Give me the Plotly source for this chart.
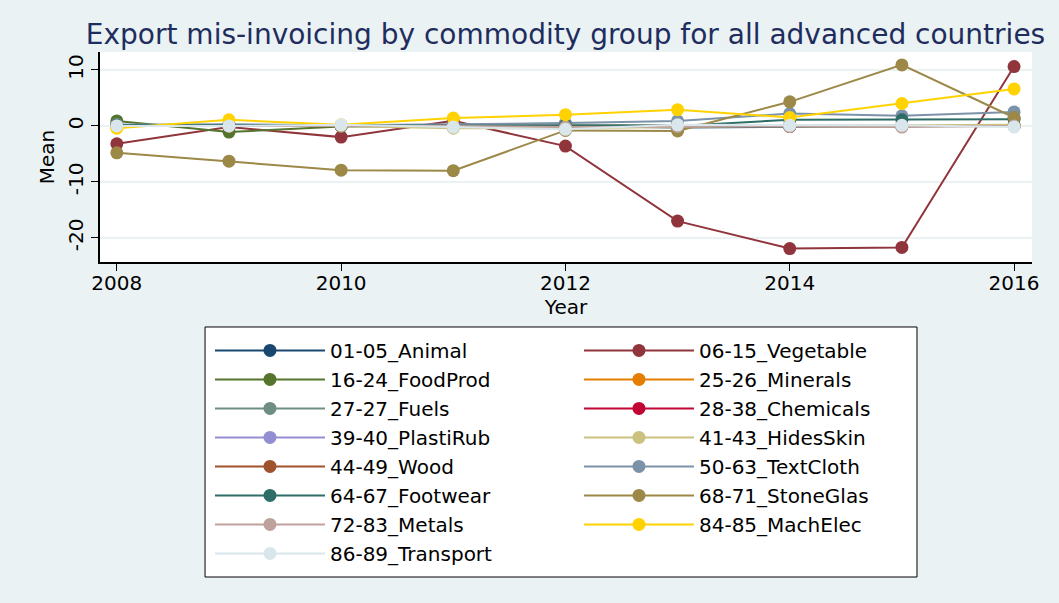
import plotly.graph_objects as go

years = [2008, 2009, 2010, 2011, 2012, 2013, 2014, 2015, 2016]

groups = [
    "01-05_Animal", "06-15_Vegetable", "16-24_FoodProd", "25-26_Minerals",
    "27-27_Fuels", "28-38_Chemicals", "39-40_PlastiRub", "41-43_HidesSkin",
    "44-49_Wood", "50-63_TextCloth", "64-67_Footwear", "68-71_StoneGlas",
    "72-83_Metals", "84-85_MachElec", "86-89_Transport",
]

animal = [0.1, 0.0, 0.0, 0.1, 0.0, -0.3, -0.1, 0.0, 0.0]
vegetable = [-3.2, -0.2, -2.0, 0.9, -3.6, -17.0, -21.9, -21.7, 10.6]
foodprod = [0.9, -1.1, -0.1, 0.0, 0.0, 0.0, -0.1, -0.1, 0.1]
minerals = [0.0, 0.0, 0.0, 0.0, 0.0, 0.0, 0.0, 0.0, 0.0]
fuels = [0.2, 0.1, 0.0, 0.1, 0.2, 0.1, 0.1, 0.1, 0.0]
chemicals = [0.0, 0.0, 0.0, 0.0, 0.0, 0.0, 0.0, 0.0, 0.0]
plastirub = [0.0, 0.1, 0.0, 0.0, 0.0, 0.0, 0.0, 0.0, 0.0]
hidesskin = [0.0, 0.0, 0.0, -0.4, -0.4, -0.2, 0.1, 0.1, 0.2]
wood = [0.0, 0.0, 0.0, 0.0, 0.0, -0.1, -0.1, -0.1, 0.0]
textcloth = [0.2, 0.3, 0.1, 0.3, 0.5, 0.9, 2.2, 1.8, 2.5]
footwear = [0.1, 0.1, 0.0, 0.1, 0.1, 0.0, 1.1, 1.1, 1.2]
stoneglas = [-4.8, -6.3, -7.9, -8.0, -0.8, -0.9, 4.3, 10.9, 1.5]
metals = [0.0, 0.0, 0.0, 0.0, -0.2, -0.1, -0.1, -0.2, 0.0]
machelec = [-0.4, 1.1, 0.2, 1.4, 2.0, 2.9, 1.5, 4.0, 6.6]
transport = [0.0, 0.0, 0.2, -0.2, -0.6, 0.2, 0.1, 0.1, -0.2]

values = [animal, vegetable, foodprod, minerals, fuels, chemicals, plastirub,
          hidesskin, wood, textcloth, footwear, stoneglas, metals, machelec, transport]

x_ticks = [2008, 2010, 2012, 2014, 2016]
y_ticks = [-20, -10, 0, 10]
y_tick_labels = ["-20", "-10", "0", "10"]

# Stata s2color palette
colors = [
    "rgb(26,71,111)", "rgb(144,53,59)", "rgb(85,117,47)", "rgb(227,126,0)",
    "rgb(110,142,132)", "rgb(193,5,52)", "rgb(147,141,210)", "rgb(202,194,126)",
    "rgb(160,82,45)", "rgb(123,146,168)", "rgb(45,109,102)", "rgb(156,136,71)",
    "rgb(191,161,156)", "rgb(255,210,0)", "rgb(217,230,235)",
]

FONT = "DejaVu Sans, Liberation Sans, sans-serif"
BG = "#EAF2F3"

fig = go.Figure()
for name, ys, col in zip(groups, values, colors):
    fig.add_trace(
        go.Scatter(
            x=years,
            y=ys,
            mode="lines+markers",
            name=name,
            line=dict(color=col, width=2),
            marker=dict(color=col, size=13),
        )
    )

# white framed box behind the two-column legend
fig.add_shape(
    type="rect",
    xref="paper", yref="paper",
    x0=0.1127, x1=0.8766, y0=-1.5, y1=-0.3095,
    line=dict(color="black", width=1),
    fillcolor="white",
    layer="below",
)

fig.update_layout(
    width=1059,
    height=603,
    paper_bgcolor=BG,
    plot_bgcolor="white",
    margin=dict(l=100, r=27, t=52, b=341, autoexpand=False),
    font=dict(family=FONT, size=20, color="black"),
    title=dict(
        text="Export mis-invoicing by commodity group for all advanced countries",
        x=0.534,
        xanchor="center",
        y=0.944,
        yanchor="middle",
        font=dict(family=FONT, size=28, color="#1E2D5E"),
    ),
    legend=dict(
        orientation="h",
        x=0.118,
        xanchor="left",
        y=-0.328,
        yanchor="top",
        bgcolor="rgba(0,0,0,0)",
        borderwidth=0,
        font=dict(family=FONT, size=20, color="black"),
        itemwidth=110,
        itemsizing="trace",
        entrywidth=244,
        entrywidthmode="pixels",
        traceorder="normal",
    ),
    showlegend=True,
)

fig.update_xaxes(
    range=[2007.85, 2016.16],
    tickvals=x_ticks,
    showgrid=False,
    zeroline=False,
    showline=True,
    linecolor="black",
    linewidth=1.5,
    ticks="outside",
    ticklen=7,
    tickcolor="black",
    ticklabelstandoff=-5,
    title=dict(text="Year", standoff=2, font=dict(size=20)),
    tickfont=dict(size=20),
)

fig.update_yaxes(
    range=[-24.3, 13.2],
    tickvals=y_ticks,
    ticktext=y_tick_labels,
    tickangle=-90,
    showgrid=True,
    gridcolor=BG,
    gridwidth=1.5,
    zeroline=False,
    showline=True,
    linecolor="black",
    linewidth=1.5,
    ticks="outside",
    ticklen=7,
    tickcolor="black",
    title=dict(text="Mean", standoff=4, font=dict(size=20)),
    tickfont=dict(size=20),
)

fig.write_html(
    "out.html",
    config={"displayModeBar": False},
    post_script="document.body.style.margin='0px';",
)
